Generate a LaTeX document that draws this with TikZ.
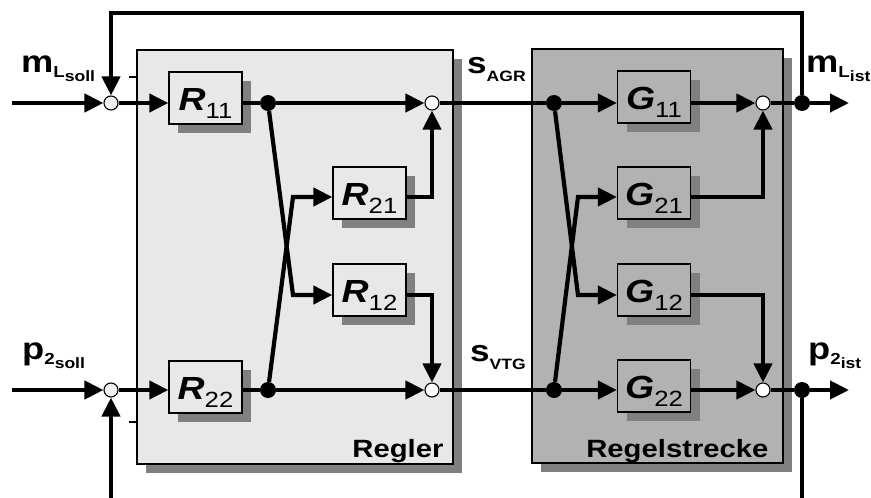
\documentclass[tikz,border=0pt]{standalone}
\usepackage{fontspec}
\setmainfont{Liberation Sans}[FakeStretch=1.17]
\usetikzlibrary{arrows.meta,shadows}

\definecolor{reglerbg}{gray}{0.91}
\definecolor{streckebg}{gray}{0.70}
\definecolor{shade}{gray}{0.50}

% block caption: italic letter with an upright index
\newcommand\blocktext[2]{{\fontsize{32}{32}\selectfont\bfseries\itshape #1}\raisebox{-8pt}{\fontsize{22}{22}\selectfont #2}}
% signal name with index and sub-index
\newcommand\signame[3]{{\bfseries\fontsize{31}{31}\selectfont #1\raisebox{-5pt}{\fontsize{16}{16}\selectfont #2\raisebox{-4pt}{\fontsize{15}{15}\selectfont #3}}}}
% signal name with a single index
\newcommand\signamesub[2]{{\bfseries\fontsize{30}{30}\selectfont #1\raisebox{-8pt}{\fontsize{15}{15}\selectfont #2}}}

\begin{document}
\begin{tikzpicture}[x=1pt,y=-1pt,
  sig/.style={line width=4.2pt},
  tip/.style={-{Triangle[length=19pt,width=18pt]}},
  shadowed/.style={general shadow={fill=shade,draw=none,shadow xshift=9pt,shadow yshift=-9pt}},
  bigbox/.style={draw,line width=1.3pt,shadowed,inner sep=0pt},
  rblock/.style={draw,line width=1.3pt,fill=reglerbg,shadowed,minimum width=73pt,minimum height=52pt,inner sep=0pt,text height=25pt,text depth=0pt},
  gblock/.style={rblock,fill=streckebg},
  junc/.style={circle,draw,line width=1.1pt,fill=white,minimum size=14pt,inner sep=0pt},
  dot/.style={circle,fill=black,minimum size=16pt,inner sep=0pt},
  minus/.style={line width=2.2pt}]

\useasboundingbox (0,0) rectangle (871,498);

% controller and plant frames
\node[bigbox,fill=reglerbg,minimum width=316pt,minimum height=414pt] (regler) at (295,257) {};
\node[bigbox,fill=streckebg,minimum width=251pt,minimum height=414pt] (strecke) at (657.5,256) {};
\node[anchor=base east,font=\bfseries\fontsize{25}{25}\selectfont] (reglerlbl) at (447,457) {Regler};
\node[anchor=base east,font=\bfseries\fontsize{25}{25}\selectfont] (streckelbl) at (772,457) {Regelstrecke};

% signal rows and routing corners
\coordinate (in1) at (12,103);
\coordinate (in2) at (12,390);
\coordinate (out1) at (849,103);
\coordinate (out2) at (849,390);
\coordinate (fbL) at (111,13);
\coordinate (fbLb) at (111,498);
\coordinate (fbRb) at (802,498);
\coordinate (cR21) at (293,197);
\coordinate (cR12) at (293,295);
\coordinate (cG21) at (578,197);
\coordinate (cG12) at (578,295);

% controller blocks
\node[rblock] (R11) at (205.5,98) {\blocktext{R}{11}};
\node[rblock] (R21) at (369.5,193) {\blocktext{R}{21}};
\node[rblock] (R12) at (369.5,290) {\blocktext{R}{12}};
\node[rblock] (R22) at (205.5,387) {\blocktext{R}{22}};

% plant blocks
\node[gblock] (G11) at (654,97) {\blocktext{G}{11}};
\node[gblock] (G21) at (654,193) {\blocktext{G}{21}};
\node[gblock] (G12) at (654,290) {\blocktext{G}{12}};
\node[gblock] (G22) at (654,386) {\blocktext{G}{22}};

% summing points and branch points
\node[junc,fill=gray!12] (sL1) at (111,103) {};
\node[junc,fill=gray!12] (sL2) at (111,390) {};
\node[junc] (sR1) at (432,103) {};
\node[junc] (sR2) at (432,390) {};
\node[junc] (sG1) at (763,103) {};
\node[junc] (sG2) at (763,390) {};
\node[dot] (dR1) at (268,103) {};
\node[dot] (dR2) at (268,390) {};
\node[dot] (dG1) at (554,103) {};
\node[dot] (dG2) at (554,390) {};
\node[dot] (dO1) at (802,103) {};
\node[dot] (dO2) at (802,390) {};

% feedback
\draw[sig,tip] (dO1) |- (fbL) -- (sL1);
\draw[sig] (dO2) -- (fbRb);
\draw[sig,tip] (fbLb) -- (sL2);
\draw[minus] (129,77) -- (137,77);
\draw[minus] (129,422) -- (137,422);

% references into the controller
\draw[sig,tip] (in1) -- (sL1);
\draw[sig,tip] (in2) -- (sL2);
\draw[sig,tip] (sL1) -- (sL1 -| R11.west);
\draw[sig,tip] (sL2) -- (sL2 -| R22.west);

% controller paths
\draw[sig] (dR1 -| R11.east) -- (dR1);
\draw[sig] (dR2 -| R22.east) -- (dR2);
\draw[sig,tip] (dR1) -- (sR1);
\draw[sig,tip] (dR2) -- (sR2);
\draw[sig,tip] (dR1) -- (cR12) -- (cR12 -| R12.west);
\draw[sig,tip] (dR2) -- (cR21) -- (cR21 -| R21.west);
\draw[sig,tip] (cR21 -| R21.east) -| (sR1);
\draw[sig,tip] (cR12 -| R12.east) -| (sR2);

% actuator signals
\draw[sig] (sR1) -- (dG1);
\draw[sig] (sR2) -- (dG2);

% plant paths
\draw[sig,tip] (dG1) -- (dG1 -| G11.west);
\draw[sig,tip] (dG2) -- (dG2 -| G22.west);
\draw[sig,tip] (dG1) -- (cG12) -- (cG12 -| G12.west);
\draw[sig,tip] (dG2) -- (cG21) -- (cG21 -| G21.west);
\draw[sig,tip] (sG1 -| G11.east) -- (sG1);
\draw[sig,tip] (sG2 -| G22.east) -- (sG2);
\draw[sig,tip] (cG21 -| G21.east) -| (sG1);
\draw[sig,tip] (cG12 -| G12.east) -| (sG2);
\draw[sig] (sG1) -- (dO1);
\draw[sig] (sG2) -- (dO2);
\draw[sig,tip] (dO1) -- (out1);
\draw[sig,tip] (dO2) -- (out2);

% signal names
\node[anchor=base west,inner sep=0pt] (mLsoll) at (21,72) {\signame{m}{L}{soll}};
\node[anchor=base west,inner sep=0pt] (p2soll) at (22,359) {\signame{p}{2}{soll}};
\node[anchor=base west,inner sep=0pt] (mList) at (806,72) {\signame{m}{L}{ist}};
\node[anchor=base west,inner sep=0pt] (p2ist) at (808,359) {\signame{p}{2}{ist}};
\node[anchor=base west,inner sep=0pt] (sAGR) at (467,73) {\signamesub{s}{AGR}};
\node[anchor=base west,inner sep=0pt] (sVTG) at (470,361) {\signamesub{s}{VTG}};
\end{tikzpicture}
\end{document}
